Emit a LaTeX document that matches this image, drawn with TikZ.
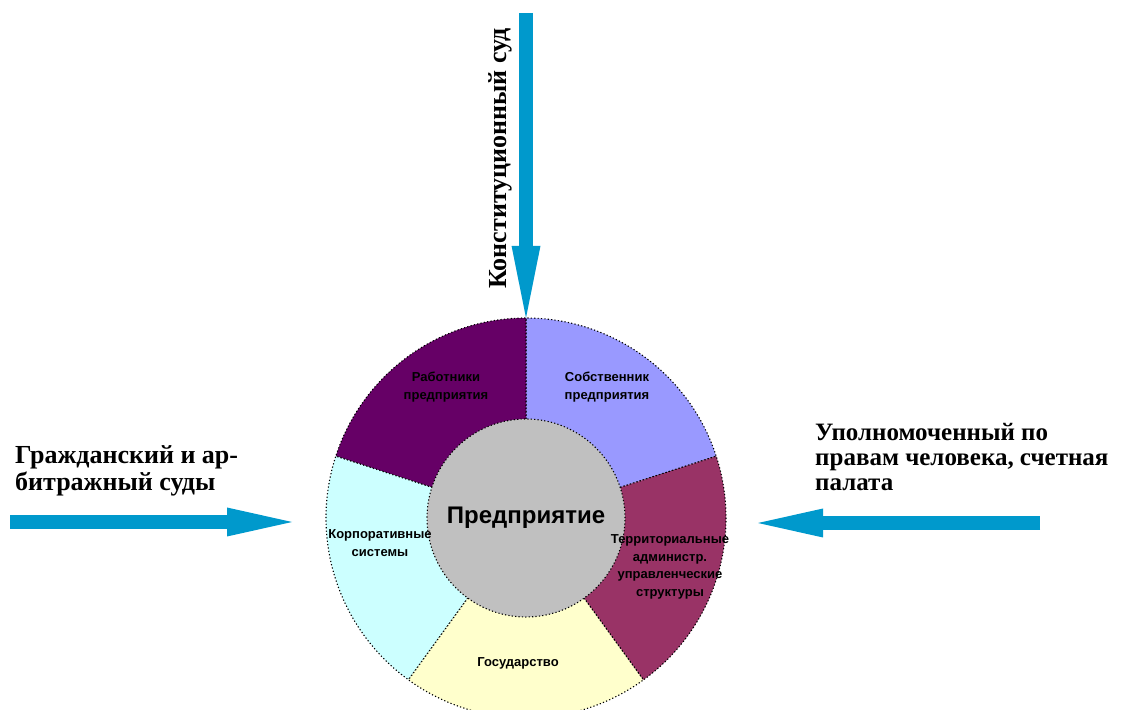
\documentclass[tikz,border=0pt]{standalone}
\usepackage{fontspec}
\setmainfont{Liberation Serif}
\newfontfamily\lsans{Liberation Sans}
\usetikzlibrary{arrows.meta,calc}
\definecolor{arrowblue}{HTML}{0099CC}
\definecolor{ownc}{HTML}{9999FF}
\definecolor{workc}{HTML}{660066}
\definecolor{corpc}{HTML}{CCFFFF}
\definecolor{statec}{HTML}{FFFFCC}
\definecolor{terrc}{HTML}{993366}
\definecolor{hubc}{HTML}{C0C0C0}
\tikzset{
  sector/.style={draw=black, line width=1.1pt, dash pattern=on 1.2pt off 2.2pt},
  hub/.style={circle, minimum size=198pt, inner sep=0pt, fill=hubc, draw=black, line width=1.1pt,
     dash pattern=on 1.2pt off 2.2pt, font=\lsans\bfseries\fontsize{24}{27}\selectfont},
  seglabel/.style={align=center, inner sep=0pt, font=\lsans\bfseries\fontsize{13}{17.5}\selectfont},
  biglabel/.style={align=left, inner sep=0pt, font=\bfseries\fontsize{26}{27}\selectfont},
  bigarrowV/.style={draw=arrowblue, line width=14pt, -{Triangle[length=72pt,width=29pt,line width=0pt]}},
  bigarrowH/.style={draw=arrowblue, line width=14pt, -{Triangle[length=65pt,width=29pt,line width=0pt]}},
}
\begin{document}
\begin{tikzpicture}[x=1pt,y=1pt]
\useasboundingbox (0,0) rectangle (1123,709);
\clip (0,0) rectangle (1123,709);
\coordinate (C) at (526,191);
\foreach \a/\b/\col in {18/90/ownc, 90/162/workc, 162/234/corpc, 234/306/statec, 306/378/terrc}
  \draw[sector, fill=\col] (C) -- ++(\a:200) arc[start angle=\a, end angle=\b, radius=200] -- cycle;
\node[circle, minimum size=400pt, inner sep=0pt] (ring) at (C) {};
\node[hub] (hub) at (C) {Предприятие};
\node[seglabel] (work) at (446,322) {Работники\\предприятия};
\node[seglabel] (own) at (607,322) {Собственник\\предприятия};
\node[seglabel] (terr) at (670,142) {Территориальные\\администр.\\управленческие\\структуры};
\node[seglabel] (state) at (518,46) {Государство};
\node[seglabel] (corp) at (380,166) {Корпоративные\\системы};

\coordinate (topS) at (526,696);
\coordinate (topT) at (ring.north);
\coordinate (leftS) at (10,187);
\coordinate (leftT) at (292,187);
\coordinate (rightS) at (1040,186);
\coordinate (rightT) at (758,186);
\draw[bigarrowV] (topS) -- (topT);
\draw[bigarrowH] (leftS) -- (leftT);
\draw[bigarrowH] (rightS) -- (rightT);

\node[biglabel, anchor=base west, rotate=90] (ks) at (506,420) {Конституционный суд};
\node[biglabel, anchor=north west] (civ) at (15,264) {Гражданский и ар-\\битражный суды};
\node[biglabel, anchor=north west, font=\bfseries\fontsize{25}{25}\selectfont] (omb) at (815,286) {Уполномоченный по\\правам человека, счетная\\палата};
\end{tikzpicture}
\end{document}
